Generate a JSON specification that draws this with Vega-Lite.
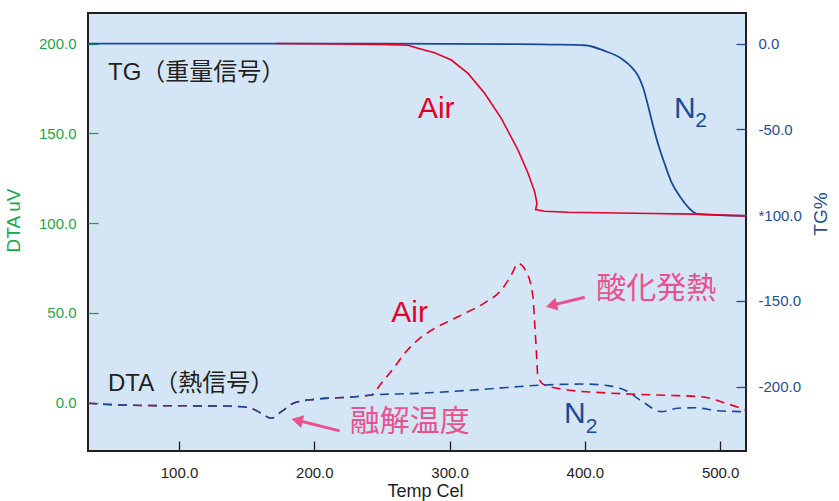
{
  "$schema": "https://vega.github.io/schema/vega-lite/v6.json",
  "width": 658,
  "height": 438,
  "autosize": {"type": "none"},
  "padding": {"left": 88, "top": 13, "right": 93, "bottom": 50},
  "background": "white",
  "config": {
    "view": {"fill": "#d4e6f6", "stroke": "#231f20", "strokeWidth": 2},
    "axis": {"labelFont": "Liberation Sans", "titleFont": "Liberation Sans", "labelFontSize": 15, "titleFontSize": 19, "titleFontWeight": "normal", "domain": false, "grid": false, "labelOverlap": false, "labelFlush": false}
  },
  "datasets": {
    "dta": [
      {"s": "Air", "i": 1, "T": 32.7, "v": -0.3},
      {"s": "Air", "i": 2, "T": 57.4, "v": -1.3},
      {"s": "Air", "i": 3, "T": 94.3, "v": -1.7},
      {"s": "Air", "i": 4, "T": 131.3, "v": -1.8},
      {"s": "Air", "i": 5, "T": 151.0, "v": -2.6},
      {"s": "Air", "i": 6, "T": 160.8, "v": -5.9},
      {"s": "Air", "i": 7, "T": 168.2, "v": -8.7},
      {"s": "Air", "i": 8, "T": 175.6, "v": -5.0},
      {"s": "Air", "i": 9, "T": 185.5, "v": 0.0},
      {"s": "Air", "i": 10, "T": 200.3, "v": 1.9},
      {"s": "Air", "i": 11, "T": 229.9, "v": 3.3},
      {"s": "Air", "i": 12, "T": 242.1, "v": 4.3},
      {"s": "Air", "i": 13, "T": 249.5, "v": 10.8},
      {"s": "Air", "i": 14, "T": 259.4, "v": 20.0},
      {"s": "Air", "i": 15, "T": 266.8, "v": 27.5},
      {"s": "Air", "i": 16, "T": 276.6, "v": 35.0},
      {"s": "Air", "i": 17, "T": 289.0, "v": 41.4},
      {"s": "Air", "i": 18, "T": 301.3, "v": 46.1},
      {"s": "Air", "i": 19, "T": 313.6, "v": 50.6},
      {"s": "Air", "i": 20, "T": 325.9, "v": 55.6},
      {"s": "Air", "i": 21, "T": 338.2, "v": 62.7},
      {"s": "Air", "i": 22, "T": 345.6, "v": 71.1},
      {"s": "Air", "i": 23, "T": 350.6, "v": 77.6},
      {"s": "Air", "i": 24, "T": 356.7, "v": 72.9},
      {"s": "Air", "i": 25, "T": 361.6, "v": 59.0},
      {"s": "Air", "i": 26, "T": 362.9, "v": 44.2},
      {"s": "Air", "i": 27, "T": 364.1, "v": 29.3},
      {"s": "Air", "i": 28, "T": 365.3, "v": 14.5},
      {"s": "Air", "i": 29, "T": 370.3, "v": 9.8},
      {"s": "Air", "i": 30, "T": 387.5, "v": 7.1},
      {"s": "Air", "i": 31, "T": 412.1, "v": 5.6},
      {"s": "Air", "i": 32, "T": 436.8, "v": 4.7},
      {"s": "Air", "i": 33, "T": 461.4, "v": 4.1},
      {"s": "Air", "i": 34, "T": 486.0, "v": 3.3},
      {"s": "Air", "i": 35, "T": 505.8, "v": -0.7},
      {"s": "Air", "i": 36, "T": 519.1, "v": -4.1},
      {"s": "N2", "i": 1, "T": 32.7, "v": -0.3},
      {"s": "N2", "i": 2, "T": 57.4, "v": -1.3},
      {"s": "N2", "i": 3, "T": 94.3, "v": -1.7},
      {"s": "N2", "i": 4, "T": 131.3, "v": -1.8},
      {"s": "N2", "i": 5, "T": 151.0, "v": -2.6},
      {"s": "N2", "i": 6, "T": 160.8, "v": -5.9},
      {"s": "N2", "i": 7, "T": 168.2, "v": -8.7},
      {"s": "N2", "i": 8, "T": 175.6, "v": -5.0},
      {"s": "N2", "i": 9, "T": 185.5, "v": 0.0},
      {"s": "N2", "i": 10, "T": 200.3, "v": 1.9},
      {"s": "N2", "i": 11, "T": 229.9, "v": 3.3},
      {"s": "N2", "i": 12, "T": 242.1, "v": 4.3},
      {"s": "N2", "i": 13, "T": 276.6, "v": 5.2},
      {"s": "N2", "i": 14, "T": 325.9, "v": 7.5},
      {"s": "N2", "i": 15, "T": 367.8, "v": 9.8},
      {"s": "N2", "i": 16, "T": 399.9, "v": 10.4},
      {"s": "N2", "i": 17, "T": 417.1, "v": 9.5},
      {"s": "N2", "i": 18, "T": 429.4, "v": 7.1},
      {"s": "N2", "i": 19, "T": 444.2, "v": -0.3},
      {"s": "N2", "i": 20, "T": 456.5, "v": -5.0},
      {"s": "N2", "i": 21, "T": 468.8, "v": -3.1},
      {"s": "N2", "i": 22, "T": 481.2, "v": -2.8},
      {"s": "N2", "i": 23, "T": 498.4, "v": -4.5},
      {"s": "N2", "i": 24, "T": 519.1, "v": -5.0}
    ],
    "tg": [
      {"s": "N2", "i": 1, "T": 32.7, "tg": 0},
      {"s": "N2", "i": 2, "T": 250, "tg": 0},
      {"s": "N2", "i": 3, "T": 350, "tg": -0.3},
      {"s": "N2", "i": 4, "T": 375, "tg": -0.6},
      {"s": "N2", "i": 5, "T": 399.9, "tg": -1.0},
      {"s": "N2", "i": 6, "T": 414.6, "tg": -4.3},
      {"s": "N2", "i": 7, "T": 426.9, "tg": -8.7},
      {"s": "N2", "i": 8, "T": 434.3, "tg": -13.6},
      {"s": "N2", "i": 9, "T": 439.2, "tg": -18.5},
      {"s": "N2", "i": 10, "T": 442.9, "tg": -25.3},
      {"s": "N2", "i": 11, "T": 446.6, "tg": -35.9},
      {"s": "N2", "i": 12, "T": 450.3, "tg": -47.6},
      {"s": "N2", "i": 13, "T": 454.0, "tg": -58.2},
      {"s": "N2", "i": 14, "T": 458.9, "tg": -69.9},
      {"s": "N2", "i": 15, "T": 463.9, "tg": -80.6},
      {"s": "N2", "i": 16, "T": 471.3, "tg": -90.3},
      {"s": "N2", "i": 17, "T": 478.6, "tg": -97.1},
      {"s": "N2", "i": 18, "T": 483.6, "tg": -99.4},
      {"s": "N2", "i": 19, "T": 519.1, "tg": -100.4},
      {"s": "Air", "i": 1, "T": 172, "tg": 0},
      {"s": "Air", "i": 2, "T": 219, "tg": -0.2},
      {"s": "Air", "i": 3, "T": 248.6, "tg": -0.5},
      {"s": "Air", "i": 4, "T": 269.3, "tg": -1.0},
      {"s": "Air", "i": 5, "T": 276.6, "tg": -2.8},
      {"s": "Air", "i": 6, "T": 288.9, "tg": -5.4},
      {"s": "Air", "i": 7, "T": 301.3, "tg": -9.6},
      {"s": "Air", "i": 8, "T": 313.6, "tg": -17.4},
      {"s": "Air", "i": 9, "T": 325.9, "tg": -29.0},
      {"s": "Air", "i": 10, "T": 338.2, "tg": -43.6},
      {"s": "Air", "i": 11, "T": 350.6, "tg": -62.1},
      {"s": "Air", "i": 12, "T": 358.0, "tg": -75.6},
      {"s": "Air", "i": 13, "T": 362.9, "tg": -86.4},
      {"s": "Air", "i": 14, "T": 364.6, "tg": -93.2},
      {"s": "Air", "i": 15, "T": 363.6, "tg": -96.7},
      {"s": "Air", "i": 16, "T": 370.3, "tg": -97.7},
      {"s": "Air", "i": 17, "T": 387.5, "tg": -98.3},
      {"s": "Air", "i": 18, "T": 449.1, "tg": -99.0},
      {"s": "Air", "i": 19, "T": 481.2, "tg": -99.4},
      {"s": "Air", "i": 20, "T": 519.1, "tg": -100.4}
    ],
    "notes": [
      {"kind": "plain", "label": "TG（重量信号）", "T": 47.5, "v": 183.5},
      {"kind": "plain", "label": "DTA（熱信号）", "T": 47.5, "v": 10.4},
      {"kind": "air", "label": "Air", "T": 276.6, "v": 163.7},
      {"kind": "air", "label": "Air", "T": 256.9, "v": 50.2},
      {"kind": "n2", "label": "N", "T": 465.9, "v": 163.6},
      {"kind": "sub", "label": "2", "T": 481.5, "v": 156.6},
      {"kind": "n2", "label": "N", "T": 384.6, "v": -6.3},
      {"kind": "sub", "label": "2", "T": 400.6, "v": -13.8},
      {"kind": "note", "label": "酸化発熱", "T": 408.4, "v": 63.3},
      {"kind": "note", "label": "融解温度", "T": 226.2, "v": -10.6}
    ],
    "arrows": [
      {"name": "oxidation", "T": 399.9, "v": 58.7, "T2": 375.3, "v2": 54.2},
      {"name": "melting", "T": 218.8, "v": -15.7, "T2": 187.3, "v2": -9.8}
    ]
  },
  "encoding": {
    "x": {
      "field": "T", "type": "quantitative",
      "scale": {"domain": [32.7, 519.1], "nice": false, "zero": false},
      "axis": {"orient": "bottom", "values": [100, 200, 300, 400, 500], "format": ".1f", "tickSize": -10, "tickColor": "#231f20", "tickWidth": 1.3, "labelColor": "#231f20", "labelPadding": 24, "title": "Temp Cel", "titleColor": "#231f20", "titleFontSize": 18, "titleX": 337, "titleY": 31, "titleAlign": "center", "titleBaseline": "top", "titleAnchor": null}
    }
  },
  "layer": [
    {
      "encoding": {
        "y": {
          "field": "v", "type": "quantitative",
          "scale": {"domain": [-26.9, 217], "nice": false, "zero": false},
          "axis": {"orient": "left", "values": [0, 50, 100, 150, 200], "format": ".1f", "tickSize": -10, "tickColor": "#18a84a", "tickWidth": 1.3, "labelColor": "#18a84a", "labelPadding": 22, "title": "DTA uV", "titleColor": "#18a84a", "titleAngle": -90, "titleX": -74.5, "titleY": 207, "titleAlign": "center", "titleBaseline": "middle"}
        }
      },
      "layer": [
        {"data": {"name": "dta"}, "transform": [{"filter": "datum.s == 'Air'"}], "mark": {"type": "line", "color": "#e60026", "strokeWidth": 1.6, "strokeDash": [9, 6], "interpolate": "monotone"}, "encoding": {"order": {"field": "i", "type": "quantitative"}}},
        {"data": {"name": "dta"}, "transform": [{"filter": "datum.s == 'N2'"}], "mark": {"type": "line", "color": "#1a4a9a", "strokeWidth": 1.6, "strokeDash": [9, 6], "interpolate": "monotone"}, "encoding": {"order": {"field": "i", "type": "quantitative"}}},
        {"data": {"name": "notes"}, "transform": [{"filter": "datum.kind == 'plain'"}], "mark": {"type": "text", "align": "left", "baseline": "middle", "font": "Liberation Sans, Noto Sans CJK JP", "fontSize": 24, "color": "#231f20"}, "encoding": {"text": {"field": "label"}}},
        {"data": {"name": "notes"}, "transform": [{"filter": "datum.kind == 'air'"}], "mark": {"type": "text", "align": "left", "baseline": "middle", "font": "Liberation Sans", "fontSize": 30, "color": "#e60026"}, "encoding": {"text": {"field": "label"}}},
        {"data": {"name": "notes"}, "transform": [{"filter": "datum.kind == 'n2'"}], "mark": {"type": "text", "align": "left", "baseline": "middle", "font": "Liberation Sans", "fontSize": 30, "color": "#1a4a9a"}, "encoding": {"text": {"field": "label"}}},
        {"data": {"name": "notes"}, "transform": [{"filter": "datum.kind == 'sub'"}], "mark": {"type": "text", "align": "left", "baseline": "middle", "font": "Liberation Sans", "fontSize": 21, "color": "#1a4a9a"}, "encoding": {"text": {"field": "label"}}},
        {"data": {"name": "notes"}, "transform": [{"filter": "datum.kind == 'note'"}], "mark": {"type": "text", "align": "left", "baseline": "middle", "font": "Noto Sans CJK JP", "fontSize": 30, "color": "#e9528e"}, "encoding": {"text": {"field": "label"}}},
        {"data": {"name": "arrows"}, "mark": {"type": "rule", "color": "#e9528e", "strokeWidth": 3}, "encoding": {"x2": {"field": "T2"}, "y2": {"field": "v2"}}},
        {"data": {"name": "arrows"}, "transform": [{"filter": "datum.name == 'oxidation'"}], "mark": {"type": "point", "shape": "triangle-up", "filled": true, "color": "#e9528e", "opacity": 1, "size": 170, "angle": 256.5}, "encoding": {"x": {"field": "T2", "type": "quantitative"}, "y": {"field": "v2", "type": "quantitative"}}},
        {"data": {"name": "arrows"}, "transform": [{"filter": "datum.name == 'melting'"}], "mark": {"type": "point", "shape": "triangle-up", "filled": true, "color": "#e9528e", "opacity": 1, "size": 170, "angle": 283.9}, "encoding": {"x": {"field": "T2", "type": "quantitative"}, "y": {"field": "v2", "type": "quantitative"}}}
      ]
    },
    {
      "encoding": {
        "y": {
          "field": "tg", "type": "quantitative",
          "scale": {"domain": [-237.4, 17.8], "nice": false, "zero": false},
          "axis": {"orient": "right", "values": [0, -50, -100, -150, -200], "labelExpr": "datum.value == -100 ? '*100.0' : (datum.value < 0 ? '-' + format(-datum.value, '.1f') : format(datum.value, '.1f'))", "tickSize": -10, "tickColor": "#1a4a9a", "tickWidth": 1.3, "labelColor": "#1f4e9c", "labelPadding": 22, "title": "TG%", "titleColor": "#1f4e9c", "titleAngle": -90, "titleX": 74, "titleY": 200.5, "titleAlign": "center", "titleBaseline": "middle"}
        }
      },
      "layer": [
        {"data": {"name": "tg"}, "transform": [{"filter": "datum.s == 'N2'"}], "mark": {"type": "line", "color": "#1a4a9a", "strokeWidth": 1.8, "interpolate": "monotone"}, "encoding": {"order": {"field": "i", "type": "quantitative"}}},
        {"data": {"name": "tg"}, "transform": [{"filter": "datum.s == 'Air'"}], "mark": {"type": "line", "color": "#e60026", "strokeWidth": 1.6}, "encoding": {"order": {"field": "i", "type": "quantitative"}}}
      ]
    }
  ],
  "resolve": {"scale": {"y": "independent"}}
}
